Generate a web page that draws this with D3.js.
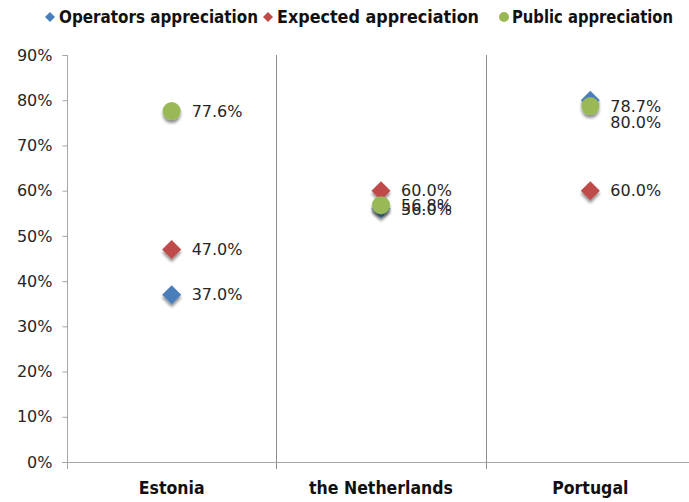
<!DOCTYPE html>
<html><head><meta charset="utf-8">
<script src="https://cdn.jsdelivr.net/npm/d3@7"></script>
<style>
html,body{margin:0;padding:0;background:#fff;}
svg{display:block;}
</style></head>
<body>
<svg id="c" width="689" height="502"></svg>
<script>
const categories = ["Estonia", "the Netherlands", "Portugal"];
const seriesNames = ["Operators appreciation", "Expected appreciation", "Public appreciation"];
const operators = [37.0, 56.0, 80.0];
const expected = [47.0, 60.0, 60.0];
const publicVals = [77.6, 56.8, 78.7];
const yTicks = [0, 10, 20, 30, 40, 50, 60, 70, 80, 90];

(function(){
const seriesData = [operators, expected, publicVals];
const colors = ["#4a7ebb", "#be4b48", "#98b954"];
const shapes = ["diamond", "diamond", "circle"];

const svg = d3.select("#c");
const defs = svg.append("defs");
const f = defs.append("filter").attr("id","sh").attr("x","-50%").attr("y","-50%").attr("width","200%").attr("height","200%");
f.append("feGaussianBlur").attr("in","SourceAlpha").attr("stdDeviation",1.6).attr("result","b");
f.append("feOffset").attr("in","b").attr("dx",0).attr("dy",2.5).attr("result","o");
f.append("feComponentTransfer").attr("in","o").attr("result","o2").append("feFuncA").attr("type","linear").attr("slope",0.45);
const m = f.append("feMerge"); m.append("feMergeNode").attr("in","o2"); m.append("feMergeNode").attr("in","SourceGraphic");

const pLeft = 67, pRight = 695, pTop = 55, pBottom = 462;
const x = d3.scaleBand().domain(categories).range([pLeft, pRight]);
const y = d3.scaleLinear().domain([0, 90]).range([pBottom, pTop]);

const axisColor = "#a6a6a6";
const tickFont = "'DejaVu Sans', Verdana, sans-serif";
const boldFont = "'DejaVu Sans Condensed', 'DejaVu Sans', sans-serif";

// category dividers
svg.append("g").selectAll("line").data(categories.slice(1)).join("line")
  .attr("x1", d => Math.round(x(d)) + 0.5).attr("x2", d => Math.round(x(d)) + 0.5)
  .attr("y1", pTop).attr("y2", pBottom + 7)
  .attr("stroke", "#8c8c8c").attr("stroke-width", 1);

// y axis
const yAxis = d3.axisLeft(y).tickValues(yTicks).tickFormat(d => d + "%").tickSize(5).tickPadding(10);
const gy = svg.append("g").attr("transform", `translate(${pLeft + 0.5},0)`).call(yAxis);
gy.select(".domain").attr("stroke", axisColor).attr("d", `M-5,${pTop + 0.5}H0V${pBottom + 0.5}`);
gy.selectAll(".tick line").attr("stroke", axisColor);
gy.selectAll(".tick text").attr("font-family", tickFont).attr("font-size", 16).attr("fill", "#262626");

// x axis line
svg.append("line").attr("x1", pLeft - 5).attr("x2", pRight).attr("y1", pBottom + 0.5).attr("y2", pBottom + 0.5)
  .attr("stroke", axisColor);
svg.append("line").attr("x1", pLeft + 0.5).attr("x2", pLeft + 0.5).attr("y1", pBottom).attr("y2", pBottom + 7).attr("stroke", axisColor);

// category labels
svg.append("g").selectAll("text").data(categories).join("text")
  .attr("x", d => x(d) + x.bandwidth() / 2).attr("y", 494)
  .attr("text-anchor", "middle").attr("font-family", boldFont).attr("font-weight", "bold")
  .attr("font-size", 17.5).attr("fill", "#111").text(d => d);

function marker(g, shape, color, cx, cy) {
  if (shape === "diamond") {
    const s = 9.5;
    g.append("path").attr("d", `M${cx},${cy - s}L${cx + s},${cy}L${cx},${cy + s}L${cx - s},${cy}Z`)
      .attr("fill", color).attr("filter", "url(#sh)");
  } else {
    g.append("circle").attr("cx", cx).attr("cy", cy).attr("r", 9).attr("fill", color).attr("filter", "url(#sh)");
  }
}

const mg = svg.append("g");
seriesData.forEach((vals, si) => {
  vals.forEach((v, ci) => {
    marker(mg, shapes[si], colors[si], x(categories[ci]) + x.bandwidth() / 2, y(v));
  });
});

// data labels
const lg = svg.append("g");
seriesData.forEach((vals, si) => {
  vals.forEach((v, ci) => {
    let ly = y(v);
    // Portugal operators label pushed below to avoid collision
    if (si === 0 && ci === 2) ly = y(publicVals[2]) + 16;
    lg.append("text").attr("x", x(categories[ci]) + x.bandwidth() / 2 + 20).attr("y", ly)
      .attr("dy", "0.36em").attr("font-family", tickFont).attr("font-size", 16).attr("fill", "#262626")
      .text(v.toFixed(1) + "%");
  });
});

// legend
const legendItems = [
  {name: seriesNames[0], color: colors[0], shape: "diamond", mx: 50, tx: 59, w: 199},
  {name: seriesNames[1], color: colors[1], shape: "diamond", mx: 268, tx: 277, w: 202},
  {name: seriesNames[2], color: colors[2], shape: "circle", mx: 504, tx: 512, w: 161}
];
const leg = svg.append("g");
legendItems.forEach(it => {
  if (it.shape === "diamond") {
    const s = 5;
    leg.append("path").attr("d", `M${it.mx},${17 - s}L${it.mx + s},17L${it.mx},${17 + s}L${it.mx - s},17Z`).attr("fill", it.color);
  } else {
    leg.append("circle").attr("cx", it.mx).attr("cy", 17).attr("r", 5).attr("fill", it.color);
  }
  leg.append("text").attr("x", it.tx).attr("y", 17).attr("dy", "0.36em")
    .attr("font-family", boldFont).attr("font-weight", "bold").attr("font-size", 17).attr("fill", "#111")
    .attr("textLength", it.w).attr("lengthAdjust", "spacingAndGlyphs")
    .text(it.name);
});
})();
</script>
</body></html>
